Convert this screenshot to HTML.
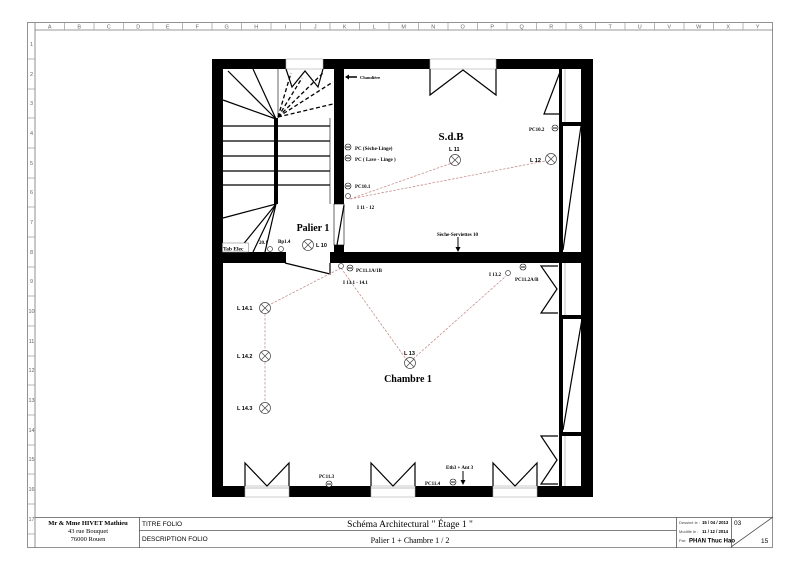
<!DOCTYPE html>
<html><head><meta charset="utf-8"><style>
html,body{margin:0;padding:0;background:#fff;}
svg{display:block;}
.s{font-family:"Liberation Serif",serif;font-weight:bold;}
.n{font-family:"Liberation Serif",serif;font-weight:normal;}
.a{font-family:"Liberation Sans",sans-serif;}
</style></head><body>
<svg width="800" height="565" viewBox="0 0 800 565" xmlns="http://www.w3.org/2000/svg">
<rect x="0" y="0" width="800" height="565" fill="#fff"/>
<g stroke="#777" stroke-width="0.8" fill="none">
<rect x="27.5" y="22.5" width="745" height="525"/>
<line x1="35" y1="30" x2="773" y2="30"/>
<line x1="35" y1="23" x2="35" y2="548"/>
</g>
<g stroke="#999" stroke-width="0.7">
<line x1="64.5" y1="23" x2="64.5" y2="30"/><line x1="94" y1="23" x2="94" y2="30"/><line x1="123.5" y1="23" x2="123.5" y2="30"/><line x1="153" y1="23" x2="153" y2="30"/><line x1="182.5" y1="23" x2="182.5" y2="30"/><line x1="212" y1="23" x2="212" y2="30"/><line x1="241.5" y1="23" x2="241.5" y2="30"/><line x1="271" y1="23" x2="271" y2="30"/><line x1="300.5" y1="23" x2="300.5" y2="30"/><line x1="330" y1="23" x2="330" y2="30"/><line x1="359.5" y1="23" x2="359.5" y2="30"/><line x1="389" y1="23" x2="389" y2="30"/><line x1="418.5" y1="23" x2="418.5" y2="30"/><line x1="448" y1="23" x2="448" y2="30"/><line x1="477.5" y1="23" x2="477.5" y2="30"/><line x1="507" y1="23" x2="507" y2="30"/><line x1="536.5" y1="23" x2="536.5" y2="30"/><line x1="566" y1="23" x2="566" y2="30"/><line x1="595.5" y1="23" x2="595.5" y2="30"/><line x1="625" y1="23" x2="625" y2="30"/><line x1="654.5" y1="23" x2="654.5" y2="30"/><line x1="684" y1="23" x2="684" y2="30"/><line x1="713.5" y1="23" x2="713.5" y2="30"/><line x1="743" y1="23" x2="743" y2="30"/>
<line x1="28" y1="59" x2="35" y2="59"/><line x1="28" y1="89" x2="35" y2="89"/><line x1="28" y1="118" x2="35" y2="118"/><line x1="28" y1="148" x2="35" y2="148"/><line x1="28" y1="178" x2="35" y2="178"/><line x1="28" y1="207" x2="35" y2="207"/><line x1="28" y1="237" x2="35" y2="237"/><line x1="28" y1="267" x2="35" y2="267"/><line x1="28" y1="296" x2="35" y2="296"/><line x1="28" y1="326" x2="35" y2="326"/><line x1="28" y1="356" x2="35" y2="356"/><line x1="28" y1="385" x2="35" y2="385"/><line x1="28" y1="415" x2="35" y2="415"/><line x1="28" y1="445" x2="35" y2="445"/><line x1="28" y1="474" x2="35" y2="474"/><line x1="28" y1="504" x2="35" y2="504"/><line x1="28" y1="534" x2="35" y2="534"/>
</g>
<g class="a" font-size="5.5" fill="#666" text-anchor="middle">
<text x="49.7" y="28.5">A</text><text x="79.2" y="28.5">B</text><text x="108.7" y="28.5">C</text><text x="138.2" y="28.5">D</text><text x="167.7" y="28.5">E</text><text x="197.2" y="28.5">F</text><text x="226.7" y="28.5">G</text><text x="256.2" y="28.5">H</text><text x="285.7" y="28.5">I</text><text x="315.2" y="28.5">J</text><text x="344.7" y="28.5">K</text><text x="374.2" y="28.5">L</text><text x="403.7" y="28.5">M</text><text x="433.2" y="28.5">N</text><text x="462.7" y="28.5">O</text><text x="492.2" y="28.5">P</text><text x="521.7" y="28.5">Q</text><text x="551.2" y="28.5">R</text><text x="580.7" y="28.5">S</text><text x="610.2" y="28.5">T</text><text x="639.7" y="28.5">U</text><text x="669.2" y="28.5">V</text><text x="698.7" y="28.5">W</text><text x="728.2" y="28.5">X</text><text x="757.7" y="28.5">Y</text>
<text x="31.5" y="46">1</text><text x="31.5" y="76">2</text><text x="31.5" y="105">3</text><text x="31.5" y="135">4</text><text x="31.5" y="165">5</text><text x="31.5" y="194">6</text><text x="31.5" y="224">7</text><text x="31.5" y="254">8</text><text x="31.5" y="283">9</text><text x="31.5" y="313">10</text><text x="31.5" y="343">11</text><text x="31.5" y="372">12</text><text x="31.5" y="402">13</text><text x="31.5" y="432">14</text><text x="31.5" y="461">15</text><text x="31.5" y="491">16</text><text x="31.5" y="521">17</text>
</g>
<g stroke="#555" stroke-width="0.8" fill="none">
<line x1="35" y1="517.5" x2="773" y2="517.5"/>
<line x1="139.5" y1="517" x2="139.5" y2="548"/>
<line x1="139" y1="530.5" x2="676" y2="530.5"/>
<line x1="676.5" y1="517" x2="676.5" y2="548"/>
<line x1="731.5" y1="517" x2="731.5" y2="548"/>
<line x1="731" y1="547" x2="773" y2="517"/>
</g>
<text x="88" y="525" class="s" font-size="6.5" text-anchor="middle">Mr &amp; Mme HIVET Mathieu</text>
<text x="88" y="533" class="n" font-size="6.5" text-anchor="middle">43 rue Bouquet</text>
<text x="88" y="541" class="n" font-size="6.5" text-anchor="middle">76000 Rouen</text>
<text x="142" y="526" class="a" font-size="6.5">TITRE FOLIO</text>
<text x="142" y="541" class="a" font-size="6.5">DESCRIPTION FOLIO</text>
<text x="410" y="527" class="n" font-size="9.5" text-anchor="middle">Schéma Architectural  " Étage 1 "</text>
<text x="410" y="543" class="n" font-size="8" text-anchor="middle">Palier 1 + Chambre 1 / 2</text>
<g class="a" font-size="4" fill="#444"><text x="679" y="524">Dessiné le :</text><text x="679" y="533">Modifié le :</text><text x="679" y="542">Par:</text></g>
<g class="a" font-size="4.3" font-weight="bold"><text x="702" y="524">15 / 04 / 2013</text><text x="702" y="533">11 / 12 / 2014</text></g>
<text x="689" y="542.5" class="a" font-size="6" font-weight="bold">PHAN Thuc Hao</text>
<text x="734" y="525" class="a" font-size="6.5">03</text>
<text x="761" y="543" class="a" font-size="6.5">15</text>

<g fill="#000">
<rect x="212" y="59" width="11" height="438"/>
<rect x="212" y="59" width="381" height="10"/>
<rect x="581" y="59" width="12" height="438"/>
<rect x="212" y="486" width="381" height="11"/>
<rect x="334" y="59" width="10" height="145"/>
<rect x="223" y="252" width="63" height="11"/>
<rect x="330" y="252" width="251" height="11"/>
<rect x="334" y="245" width="10" height="8"/>
<rect x="274" y="118" width="4" height="86"/>
</g>
<g fill="#fff" stroke="#aaa" stroke-width="0.6">
<rect x="286" y="59" width="37" height="10"/>
<rect x="430" y="59" width="66" height="10"/>
<rect x="245" y="486" width="44" height="11"/>
<rect x="371" y="486" width="44" height="11"/>
<rect x="493" y="486" width="44" height="11"/>
<rect x="286" y="252" width="44" height="11" stroke="none"/>
<rect x="563" y="69" width="18" height="183" stroke="none"/>
<rect x="563" y="263" width="18" height="223" stroke="none"/>
</g>
<g stroke="#aaa" stroke-width="0.7">
<line x1="565" y1="69" x2="565" y2="122"/>
<line x1="565" y1="263" x2="565" y2="315"/>
<line x1="565" y1="436" x2="565" y2="486"/>
<line x1="245" y1="488" x2="289" y2="488"/><line x1="371" y1="488" x2="415" y2="488"/><line x1="493" y1="488" x2="537" y2="488"/>
</g>
<g fill="#000">
<rect x="559" y="69" width="3" height="53"/>
<rect x="559" y="122" width="22" height="4"/>
<rect x="559" y="126" width="4" height="126"/>
<rect x="559" y="263" width="3" height="52"/>
<rect x="559" y="315" width="23" height="4"/>
<rect x="559" y="319" width="4" height="114"/>
<rect x="559" y="432" width="23" height="4"/>
<rect x="559" y="436" width="3" height="50"/>
</g>
<g stroke="#000" stroke-width="1.2" fill="none">
<polyline points="560,72 544,114 560,114"/>
<line x1="581" y1="126" x2="563" y2="250"/>
<line x1="582" y1="319" x2="563" y2="430"/>
<polyline points="558,266 541,266 557,289 541,313 558,313"/>
<polyline points="558,436 541,436 557,460 541,484 558,484"/>
<polyline points="245,486 245,463 267,486 289,463 289,486"/>
<polyline points="371,486 371,463 393,486 415,463 415,486"/>
<polyline points="493,486 493,463 515,486 537,463 537,486"/>
<polyline points="430,69 430,95 463,70 496,95 496,69"/>
<polyline points="286,69 292,87 305,71 318,87 323,69"/>
<line x1="223" y1="126" x2="330" y2="126"/><line x1="223" y1="141" x2="330" y2="141"/><line x1="223" y1="156" x2="330" y2="156"/><line x1="223" y1="171" x2="330" y2="171"/><line x1="223" y1="185" x2="330" y2="185"/>
<line x1="330" y1="118" x2="330" y2="204" stroke-width="0.6"/>
<line x1="278" y1="69" x2="278" y2="118" stroke-width="0.6"/>
<line x1="276" y1="119" x2="253" y2="69"/>
<line x1="276" y1="119" x2="228" y2="71"/>
<line x1="276" y1="119" x2="223" y2="100"/>
<line x1="276" y1="204" x2="223" y2="218"/>
<line x1="276" y1="204" x2="237" y2="252"/>
<line x1="276" y1="204" x2="253" y2="252"/>
<line x1="276" y1="204" x2="265" y2="252"/>
<polyline points="285,263 330,274 330,263"/>
<rect x="334" y="204" width="10" height="41" stroke-width="0.6"/>
<line x1="344" y1="205" x2="337" y2="245"/>
</g>
<g stroke="#000" stroke-width="1.3" stroke-dasharray="4,2.5" fill="none">
<line x1="278" y1="117" x2="291" y2="73"/>
<line x1="278" y1="117" x2="302" y2="78"/>
<line x1="278" y1="117" x2="324" y2="72"/>
<line x1="278" y1="117" x2="333" y2="82"/>
<line x1="278" y1="117" x2="333" y2="104"/>
</g>
<line x1="347" y1="77" x2="357" y2="77" stroke="#000" stroke-width="1.5"/>
<polygon points="345,77 349,74.5 349,79.5" fill="#000"/>
<text x="360" y="79" class="s" font-size="4.5">Chaudière</text>
<rect x="222.5" y="243" width="26" height="9" fill="#fff" stroke="#888" stroke-width="0.6"/>
<text x="223" y="250.5" class="s" font-size="5.5">Tab Elec</text>
<g stroke="#c08080" stroke-width="0.7" stroke-dasharray="2.5,1.5" fill="none">
<line x1="350" y1="199" x2="452" y2="163"/>
<line x1="350" y1="199" x2="545" y2="161"/>
<line x1="341" y1="268" x2="269" y2="305"/>
<line x1="341" y1="268" x2="406" y2="359"/>
<line x1="413" y1="359" x2="506" y2="276"/>
<line x1="265" y1="314" x2="265" y2="350"/>
<line x1="265" y1="362" x2="265" y2="402"/>
</g>
<g stroke="#444" stroke-width="0.7" fill="#fff">
<g transform="translate(455,160)"><circle r="5.5"/><path d="M-3.9,-3.9L3.9,3.9M3.9,-3.9L-3.9,3.9"/></g>
<g transform="translate(551,159)"><circle r="5.5"/><path d="M-3.9,-3.9L3.9,3.9M3.9,-3.9L-3.9,3.9"/></g>
<g transform="translate(308,245)"><circle r="5.5"/><path d="M-3.9,-3.9L3.9,3.9M3.9,-3.9L-3.9,3.9"/></g>
<g transform="translate(410,363)"><circle r="5.5"/><path d="M-3.9,-3.9L3.9,3.9M3.9,-3.9L-3.9,3.9"/></g>
<g transform="translate(265,308)"><circle r="5.5"/><path d="M-3.9,-3.9L3.9,3.9M3.9,-3.9L-3.9,3.9"/></g>
<g transform="translate(265,356)"><circle r="5.5"/><path d="M-3.9,-3.9L3.9,3.9M3.9,-3.9L-3.9,3.9"/></g>
<g transform="translate(265,408)"><circle r="5.5"/><path d="M-3.9,-3.9L3.9,3.9M3.9,-3.9L-3.9,3.9"/></g>
<circle cx="348" cy="196" r="2.5"/><circle cx="341" cy="266" r="2.5"/><circle cx="508" cy="273" r="2.5"/>
<circle cx="270" cy="249" r="2.5"/><circle cx="281" cy="249" r="2.5"/>
</g>
<g fill="#000">
<g transform="translate(348,147)"><circle r="3" fill="#fff" stroke="#000" stroke-width="0.6"/><circle cx="-1" cy="0" r="0.8"/><circle cx="1" cy="0" r="0.8"/></g>
<g transform="translate(348,158)"><circle r="3" fill="#fff" stroke="#000" stroke-width="0.6"/><circle cx="-1" cy="0" r="0.8"/><circle cx="1" cy="0" r="0.8"/></g>
<g transform="translate(348,186)"><circle r="3" fill="#fff" stroke="#000" stroke-width="0.6"/><circle cx="-1" cy="0" r="0.8"/><circle cx="1" cy="0" r="0.8"/></g>
<g transform="translate(555,128)"><circle r="3" fill="#fff" stroke="#000" stroke-width="0.6"/><circle cx="-1" cy="0" r="0.8"/><circle cx="1" cy="0" r="0.8"/></g>
<g transform="translate(350,268)"><circle r="3" fill="#fff" stroke="#000" stroke-width="0.6"/><circle cx="-1" cy="0" r="0.8"/><circle cx="1" cy="0" r="0.8"/></g>
<g transform="translate(523,267)"><circle r="3" fill="#fff" stroke="#000" stroke-width="0.6"/><circle cx="-1" cy="0" r="0.8"/><circle cx="1" cy="0" r="0.8"/></g>
<g transform="translate(329,484)"><circle r="3" fill="#fff" stroke="#000" stroke-width="0.6"/><circle cx="-1" cy="0" r="0.8"/><circle cx="1" cy="0" r="0.8"/></g>
<g transform="translate(453,482)"><circle r="3" fill="#fff" stroke="#000" stroke-width="0.6"/><circle cx="-1" cy="0" r="0.8"/><circle cx="1" cy="0" r="0.8"/></g>
</g>
<line x1="458" y1="237" x2="458" y2="249" stroke="#000" stroke-width="1"/>
<polygon points="458,252 455.5,247 460.5,247" fill="#000"/>
<line x1="463" y1="471" x2="463" y2="482" stroke="#000" stroke-width="1"/>
<polygon points="463,485 460.5,480 465.5,480" fill="#000"/>
<text x="451" y="140" class="s" font-size="11" text-anchor="middle">S.d.B</text>
<text x="313" y="231" class="s" font-size="10" text-anchor="middle">Palier 1</text>
<text x="408" y="382" class="s" font-size="10" text-anchor="middle">Chambre 1</text>
<g class="s" font-size="5">
<text x="355" y="150">PC  (Sèche-Linge)</text>
<text x="355" y="161">PC  ( Lave - Linge )</text>
<text x="355" y="188">PC10.1</text>
<text x="357" y="209">I 11 - 12</text>
<text x="529" y="131">PC10.2</text>
<text x="437" y="236">Sèche-Serviettes 10</text>
<text x="356" y="272">PC11.1A/1B</text>
<text x="343" y="284">I 13.1 - 14.1</text>
<text x="489" y="276">I 13.2</text>
<text x="515" y="281">PC11.2A/B</text>
<text x="259" y="244">20.1</text>
<text x="278" y="243">Bp1.4</text>
<text x="319" y="478">PC11.3</text>
<text x="425" y="485">PC11.4</text>
<text x="446" y="469">Eth3 + Ant 3</text>
</g>
<g class="a" font-size="5.5" font-weight="bold">
<text x="449" y="151">L 11</text>
<text x="530" y="162">L 12</text>
<text x="316" y="247">L 10</text>
<text x="404" y="355">L 13</text>
<text x="237" y="310">L 14.1</text>
<text x="237" y="358">L 14.2</text>
<text x="237" y="410">L 14.3</text>
</g>
</svg>
</body></html>
